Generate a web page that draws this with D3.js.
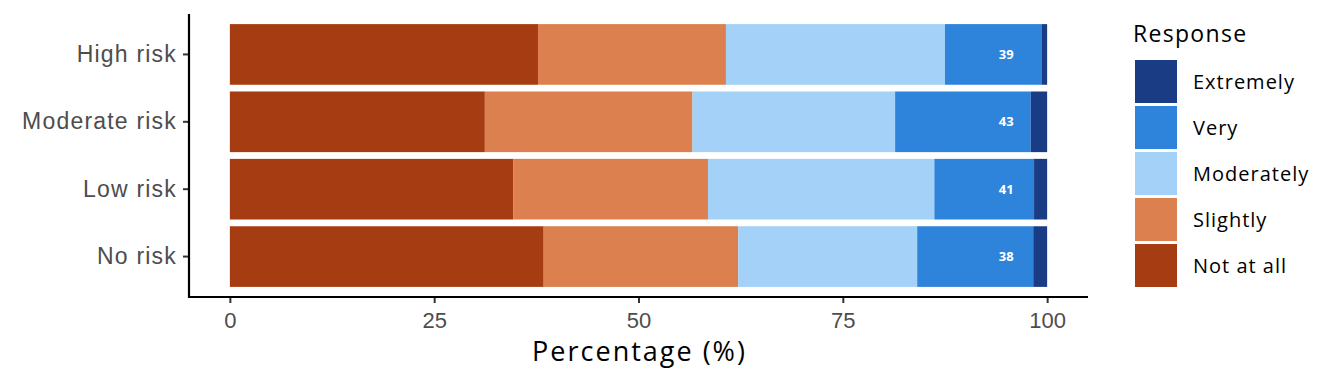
<!DOCTYPE html>
<html>
<head>
<meta charset="utf-8">
<script src="https://cdn.jsdelivr.net/npm/d3@7"></script>
<style>
  body { margin: 0; background: #fff; }
  svg { display: block; font-family: "Open Sans", "Noto Sans", sans-serif; }
</style>
</head>
<body>
<svg width="1344" height="384"></svg>
<script>
// data (percent of respondents per risk level)
const categories = ['High risk', 'Moderate risk', 'Low risk', 'No risk'];
const responses = ['Not at all', 'Slightly', 'Moderately', 'Very', 'Extremely'];
const notAtAll   = [37.7, 31.2, 34.7, 38.4];
const slightly   = [23.0, 25.4, 23.8, 23.8];
const moderately = [26.8, 24.8, 27.7, 21.9];
const very       = [11.8, 16.6, 12.2, 14.2];
const extremely  = [0.7, 2.0, 1.6, 1.7];
const counts     = [39, 43, 41, 38];
const xTicks     = [0, 25, 50, 75, 100];
const colors     = ['#a63c11', '#dc804f', '#a3d1f8', '#2e83db', '#1a3c84'];

const svg = d3.select('svg');

// panel area
const pLeft = 189, pRight = 1088, pTop = 14, pBottom = 297;

const rows = categories.map((c, i) => ({
  cat: c,
  'Not at all': notAtAll[i],
  'Slightly': slightly[i],
  'Moderately': moderately[i],
  'Very': very[i],
  'Extremely': extremely[i],
  n: counts[i]
}));

const stacked = d3.stack().keys(responses)(rows);

// x: 0..100 plus ggplot style expansion
const x = d3.scaleLinear().domain([-5, 105]).range([pLeft, pRight]);
const y = d3.scaleBand().domain(categories).range([pTop, pBottom]).paddingInner(0.1).paddingOuter(0.15);
const color = d3.scaleOrdinal().domain(responses).range(colors);

svg.append('g')
  .selectAll('g')
  .data(stacked)
  .join('g')
    .attr('fill', d => color(d.key))
  .selectAll('rect')
  .data(d => d)
  .join('rect')
    .attr('x', d => x(d[0]))
    .attr('width', d => x(d[1]) - x(d[0]))
    .attr('y', d => y(d.data.cat))
    .attr('height', y.bandwidth());

// n labels
svg.append('g')
  .selectAll('text')
  .data(rows)
  .join('text')
    .attr('x', x(95))
    .attr('y', d => y(d.cat) + y.bandwidth() / 2)
    .attr('dy', '0.35em')
    .attr('text-anchor', 'middle')
    .attr('fill', '#fff')
    .attr('font-weight', 'bold')
    .attr('font-size', 13)
    .text(d => d.n);

// axes
const xAxis = svg.append('g')
  .attr('transform', `translate(0,${pBottom})`)
  .call(d3.axisBottom(x).tickValues(xTicks).tickSize(6).tickPadding(5).tickSizeOuter(0));
xAxis.selectAll('.tick line').attr('stroke', '#333').attr('stroke-width', 2);
xAxis.selectAll('.tick text').attr('fill', '#4d4d4d').attr('font-size', 22).attr('dy', '0.9em');

const yAxis = svg.append('g')
  .attr('transform', `translate(${pLeft},0)`)
  .call(d3.axisLeft(y).tickSize(6).tickPadding(6).tickSizeOuter(0));
yAxis.selectAll('.tick line').attr('stroke', '#333').attr('stroke-width', 2);
yAxis.selectAll('.tick text').attr('fill', '#4d4d4d').attr('font-size', 23)
  .attr('letter-spacing', '1.2px');

svg.selectAll('.domain').remove();
svg.append('line').attr('x1', pLeft).attr('x2', pLeft).attr('y1', pTop).attr('y2', pBottom + 1)
  .attr('stroke', '#000').attr('stroke-width', 2.2);
svg.append('line').attr('x1', pLeft - 1).attr('x2', pRight).attr('y1', pBottom).attr('y2', pBottom)
  .attr('stroke', '#000').attr('stroke-width', 2.2);

svg.append('text')
  .attr('x', (pLeft + pRight) / 2 + 1)
  .attr('y', 361)
  .attr('text-anchor', 'middle')
  .attr('font-size', 27)
  .attr('letter-spacing', '2px')
  .attr('fill', '#000')
  .text('Percentage (%)');

// legend (reversed order, Extremely on top)
const legend = svg.append('g').attr('transform', 'translate(1135,0)');
legend.append('text')
  .attr('x', -2).attr('y', 42)
  .attr('font-size', 23)
  .attr('letter-spacing', '1.3px')
  .text('Response');

const legendKeys = responses.slice().reverse();
const item = legend.selectAll('g.item')
  .data(legendKeys)
  .join('g')
    .attr('class', 'item')
    .attr('transform', (d, i) => `translate(0,${60 + i * 46})`);
item.append('rect')
  .attr('width', 42).attr('height', 43)
  .attr('fill', d => color(d));
item.append('text')
  .attr('x', 58).attr('y', 22).attr('dy', '0.35em')
  .attr('font-size', 20)
  .attr('letter-spacing', '1px')
  .text(d => d);
</script>
</body>
</html>
